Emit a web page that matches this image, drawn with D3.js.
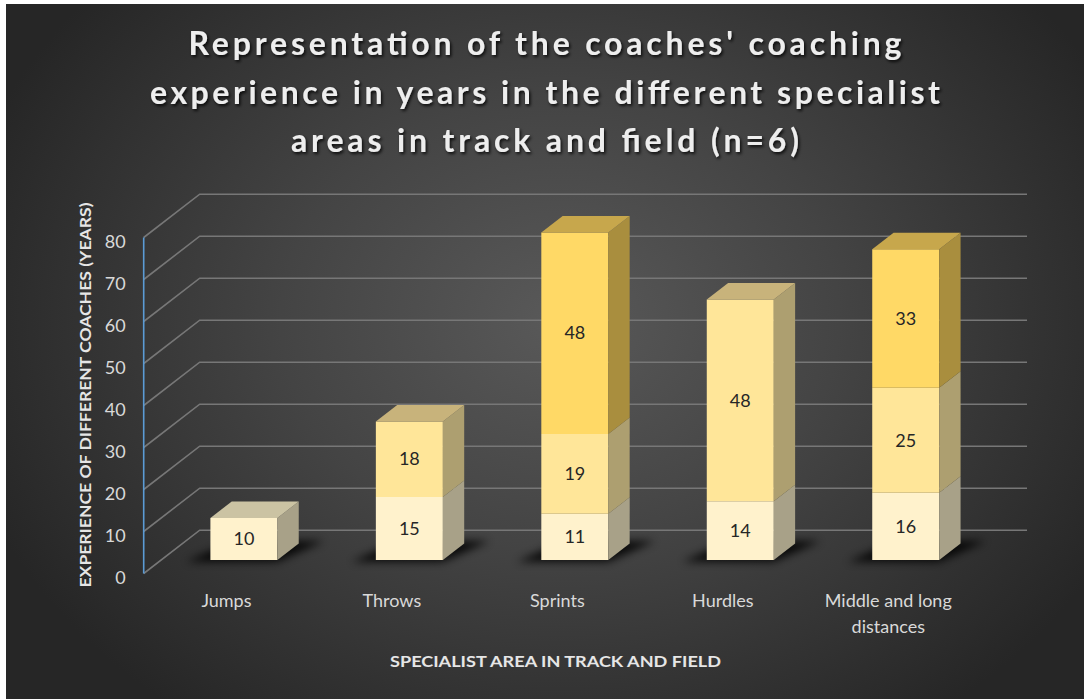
<!DOCTYPE html>
<html>
<head>
<meta charset="utf-8">
<script src="https://cdn.jsdelivr.net/npm/d3@7"></script>
<style>
  html, body { margin: 0; padding: 0; background: #ffffff; }
  svg { display: block; }
</style>
</head>
<body>
<svg id="chart" width="1084" height="699"></svg>
<script>
// ---- data ----
const categories = ["Jumps", "Throws", "Sprints", "Hurdles", "Middle and long distances"];
const firstValues  = [10, 15, 11, 14, 16];
const secondValues = [0, 18, 19, 48, 25];
const thirdValues  = [0, 0, 48, 0, 33];
const yTicks = [0, 10, 20, 30, 40, 50, 60, 70, 80];
const titleLines = [
  "Representation of the coaches' coaching",
  "experience in years in the different  specialist",
  "areas in track and field (n=6)"
];
const yTitle = "EXPERIENCE OF DIFFERENT COACHES (YEARS)";
const xTitle = "SPECIALIST AREA IN TRACK AND FIELD";

const keys = ["first", "second", "third"];
const rows = categories.map((c, i) => ({
  category: c, first: firstValues[i], second: secondValues[i], third: thirdValues[i]
}));

// face colours for each stacked series: front, right side, top
const faceColors = {
  first:  { front: "#fff2cc", side: "#a8a188", top: "#cbc3a3" },
  second: { front: "#ffe699", side: "#ad9f70", top: "#c8b37b" },
  third:  { front: "#ffd966", side: "#a98e3e", top: "#c7a74c" }
};

const svg = d3.select("#chart");
const W = 1084, H = 699;
const defs = svg.append("defs");

// background
const bg = defs.append("radialGradient")
  .attr("id", "bgGrad")
  .attr("gradientUnits", "userSpaceOnUse")
  .attr("cx", 560).attr("cy", 320).attr("r", 620)
  .attr("gradientTransform", "translate(560,320) scale(1,0.8) translate(-560,-320)");
bg.append("stop").attr("offset", "0").attr("stop-color", "#595959");
bg.append("stop").attr("offset", "0.45").attr("stop-color", "#444444");
bg.append("stop").attr("offset", "1").attr("stop-color", "#262626");

const shadowBlur = defs.append("filter").attr("id", "shadowBlur")
  .attr("x", "-50%").attr("y", "-100%").attr("width", "200%").attr("height", "300%");
shadowBlur.append("feGaussianBlur").attr("stdDeviation", 4);

const textShadow = defs.append("filter").attr("id", "textShadow")
  .attr("x", "-10%").attr("y", "-30%").attr("width", "120%").attr("height", "160%");
textShadow.append("feDropShadow").attr("dx", 1.5).attr("dy", 2)
  .attr("stdDeviation", 1.5).attr("flood-color", "#000").attr("flood-opacity", 0.8);

svg.append("rect").attr("x", 0).attr("y", 0).attr("width", W).attr("height", H).attr("fill", "#ffffff");
svg.append("rect").attr("x", 6).attr("y", 4).attr("width", W - 6).attr("height", H - 4)
  .attr("fill", "url(#bgGrad)");

// ---- scales and oblique projection ----
const DX = 56, DY = 43.3;          // depth of the floor / back wall
const y = d3.scaleLinear().domain([0, 80]).range([573.5, 237.5]);
const x = d3.scaleBand().domain(categories).range([143.7, 971]);
const bw = x.bandwidth();
const barW = bw * 0.405;
const z0 = 0.312, z1 = 0.693;      // bar front / back depth
const P = (sx, v, z) => [sx + z * DX, y(v) - z * DY];
const pts = arr => arr.map(p => p.join(",")).join(" ");

// ---- gridlines on the side and back walls ----
const x0 = x.range()[0];
const backRight = 1027;
svg.append("g").selectAll("path").data(yTicks).join("path")
  .attr("d", v => {
    const a = P(x0, v, 0), b = P(x0, v, 1);
    return `M${a}L${b}L${backRight},${b[1]}`;
  })
  .attr("fill", "none").attr("stroke", "#777777").attr("stroke-width", 1.6);

// value axis line
svg.append("line")
  .attr("x1", x0).attr("x2", x0).attr("y1", y(0)).attr("y2", y(80))
  .attr("stroke", "#5b9bd5").attr("stroke-width", 1.6);

// value axis labels
const yAxis = svg.append("g")
  .attr("transform", `translate(${x0},4)`)
  .call(d3.axisLeft(y).tickValues(yTicks).tickSize(0).tickPadding(18));
yAxis.select(".domain").remove();
yAxis.selectAll("text")
  .attr("fill", "#d9d9d9").attr("font-family", "Lato, 'Open Sans', sans-serif").attr("font-size", 18);

// ---- stacked 3D columns ----
const stacked = d3.stack().keys(keys)(rows);
const barLayer = svg.append("g");

// soft shadows under each column
barLayer.append("g").selectAll("polygon").data(rows).join("polygon")
  .attr("points", d => {
    const xl = x(d.category) + (bw - barW) / 2, xr = xl + barW;
    return pts([P(xl - 22, 0, z0 - 0.04), P(xr + 2, 0, z0 - 0.04), P(xr + 22, 0, z1 + 0.06), P(xl - 2, 0, z1 + 0.06)]);
  })
  .attr("fill", "#000").attr("opacity", 0.85).attr("filter", "url(#shadowBlur)");

// segments in stack order so upper parts cover lower edges
const segs = [];
stacked.forEach(layer => {
  layer.forEach((s, i) => {
    if (s[1] - s[0] > 0) segs.push({ key: layer.key, v0: s[0], v1: s[1], value: s[1] - s[0], category: rows[i].category, i });
  });
});
const topIndex = {};
segs.forEach(s => { if (!(s.i in topIndex) || s.v1 > topIndex[s.i].v1) topIndex[s.i] = s; });

const segG = barLayer.append("g").selectAll("g").data(segs).join("g");
segG.each(function (s) {
  const g = d3.select(this);
  const xl = x(s.category) + (bw - barW) / 2, xr = xl + barW;
  const col = faceColors[s.key];
  g.append("polygon")
    .attr("points", pts([P(xl, s.v0, z0), P(xr, s.v0, z0), P(xr, s.v1, z0), P(xl, s.v1, z0)]))
    .attr("fill", col.front);
  g.append("polygon")
    .attr("points", pts([P(xr, s.v0, z0), P(xr, s.v0, z1), P(xr, s.v1, z1), P(xr, s.v1, z0)]))
    .attr("fill", col.side);
  if (topIndex[s.i] === s) {
    g.append("polygon")
      .attr("points", pts([P(xl, s.v1, z0), P(xr, s.v1, z0), P(xr, s.v1, z1), P(xl, s.v1, z1)]))
      .attr("fill", col.top);
  }
  const c = P((xl + xr) / 2, (s.v0 + s.v1) / 2, z0);
  g.append("text")
    .attr("x", c[0]).attr("y", c[1]).attr("dy", "0.35em")
    .attr("text-anchor", "middle")
    .attr("font-family", "Lato, 'Open Sans', sans-serif").attr("font-size", 18)
    .attr("fill", "#262626")
    .text(s.value);
});

// ---- category axis ----
const xAxis = svg.append("g")
  .attr("transform", `translate(0,${y(0)})`)
  .call(d3.axisBottom(x).tickSize(0).tickPadding(21));
xAxis.select(".domain").remove();
xAxis.selectAll("text")
  .attr("fill", "#d9d9d9").attr("font-family", "Lato, 'Open Sans', sans-serif").attr("font-size", 18)
  .each(function () {
    // wrap long category names onto two lines
    const t = d3.select(this);
    const words = t.text().split(/\s+/);
    const yAttr = t.attr("y"), dy0 = parseFloat(t.attr("dy"));
    t.text(null);
    let line = [], lineNo = 0;
    let tspan = t.append("tspan").attr("x", 0).attr("y", yAttr).attr("dy", dy0 + "em");
    words.forEach(w => {
      line.push(w);
      tspan.text(line.join(" "));
      if (tspan.node().getComputedTextLength() > bw * 0.85 && line.length > 1) {
        line.pop();
        tspan.text(line.join(" "));
        line = [w];
        lineNo++;
        tspan = t.append("tspan").attr("x", 0).attr("y", yAttr)
          .attr("dy", (dy0 + lineNo * 1.45) + "em").text(w);
      }
    });
  });

// ---- titles ----
const titleWidths = [713, 790, 508];
svg.append("g").selectAll("text").data(titleLines).join("text")
  .attr("x", 545).attr("y", (d, i) => 55 + i * 48.5)
  .attr("text-anchor", "middle")
  .attr("font-family", "Lato, 'Open Sans', sans-serif").attr("font-weight", 700).attr("font-size", 32)
  .attr("fill", "#eeeeee")
  .attr("textLength", (d, i) => titleWidths[i]).attr("lengthAdjust", "spacing")
  .attr("filter", "url(#textShadow)")
  .text(d => d);

svg.append("text")
  .attr("transform", "translate(85,395) rotate(-90)")
  .attr("text-anchor", "middle").attr("dy", "0.35em")
  .attr("font-family", "Lato, 'Open Sans', sans-serif").attr("font-weight", 700).attr("font-size", 16)
  .attr("fill", "#e6e6e6")
  .attr("textLength", 385).attr("lengthAdjust", "spacingAndGlyphs")
  .text(yTitle);

svg.append("text")
  .attr("x", 555.5).attr("y", 661).attr("dy", "0.35em")
  .attr("text-anchor", "middle")
  .attr("font-family", "Lato, 'Open Sans', sans-serif").attr("font-weight", 700).attr("font-size", 16)
  .attr("fill", "#e6e6e6")
  .attr("textLength", 331).attr("lengthAdjust", "spacingAndGlyphs")
  .text(xTitle);
</script>
</body>
</html>
